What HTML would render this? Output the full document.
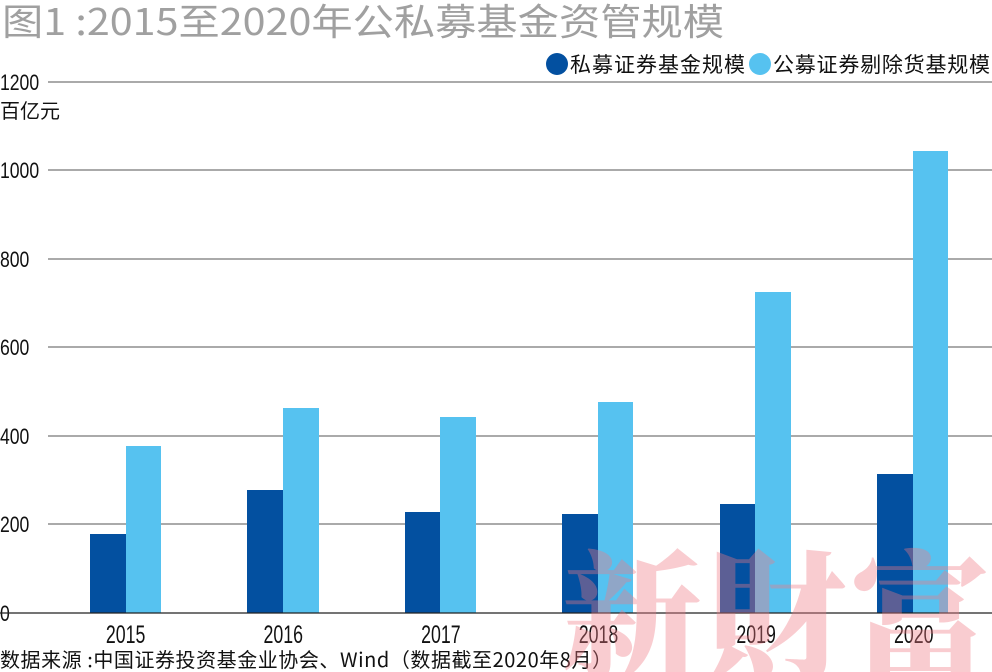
<!DOCTYPE html>
<html><head><meta charset="utf-8"><style>
html,body{margin:0;background:#fff;width:992px;height:672px;overflow:hidden;}
svg{display:block;}
</style></head><body>
<svg width="992" height="672" viewBox="0 0 992 672" xmlns="http://www.w3.org/2000/svg" overflow="hidden">
<text x="2" y="35" font-family="Noto Sans CJK SC, sans-serif" font-size="37" fill="#a0a0a0" textLength="722" lengthAdjust="spacingAndGlyphs">图1 :2015至2020年公私募基金资管规模</text>
<g stroke="#555" stroke-width="1">
<line x1="48" y1="82" x2="992" y2="82"/>
<line x1="48" y1="170" x2="992" y2="170"/>
<line x1="48" y1="259" x2="992" y2="259"/>
<line x1="48" y1="347" x2="992" y2="347"/>
<line x1="48" y1="436" x2="992" y2="436"/>
<line x1="48" y1="524" x2="992" y2="524"/>
</g>
<g font-family="Liberation Sans, sans-serif" font-size="22" fill="#111">
<text x="0" y="90" transform="scale(0.8,1)">1200</text>
<text x="0" y="178" transform="scale(0.8,1)">1000</text>
<text x="0" y="267" transform="scale(0.8,1)">800</text>
<text x="0" y="355" transform="scale(0.8,1)">600</text>
<text x="0" y="444" transform="scale(0.8,1)">400</text>
<text x="0" y="532" transform="scale(0.8,1)">200</text>
<text x="0" y="621" transform="scale(0.8,1)">0</text>
</g>
<text x="0" y="118" font-family="Noto Sans CJK SC, sans-serif" font-size="20" fill="#111">百亿元</text>
<circle cx="557" cy="64" r="11" fill="#0350a0"/>
<text x="570" y="72" font-family="Noto Sans CJK SC, sans-serif" font-size="21" fill="#111" textLength="175">私募证券基金规模</text>
<circle cx="760" cy="64" r="11" fill="#56c2f0"/>
<text x="773" y="72" font-family="Noto Sans CJK SC, sans-serif" font-size="21" fill="#111" textLength="217">公募证券剔除货基规模</text>
<g fill="#0350a0">
<rect x="90" y="534" width="36" height="79"/>
<rect x="247" y="490" width="36" height="123"/>
<rect x="405" y="512" width="35" height="101"/>
<rect x="562" y="514" width="36" height="99"/>
<rect x="720" y="504" width="35" height="109"/>
<rect x="877" y="474" width="36" height="139"/>
</g>
<g fill="#56c2f0">
<rect x="126" y="446" width="35" height="167"/>
<rect x="283" y="408" width="36" height="205"/>
<rect x="440" y="417" width="36" height="196"/>
<rect x="598" y="402" width="35" height="211"/>
<rect x="755" y="292" width="36" height="321"/>
<rect x="913" y="151" width="35" height="462"/>
</g>
<line x1="0" y1="613" x2="992" y2="613" stroke="#222" stroke-width="1.2"/>
<g font-family="Liberation Sans, sans-serif" font-size="25" fill="#111" text-anchor="middle">
<text x="177" y="643" transform="scale(0.71,1)">2015</text>
<text x="399" y="643" transform="scale(0.71,1)">2016</text>
<text x="621" y="643" transform="scale(0.71,1)">2017</text>
<text x="843" y="643" transform="scale(0.71,1)">2018</text>
<text x="1065" y="643" transform="scale(0.71,1)">2019</text>
<text x="1287" y="643" transform="scale(0.71,1)">2020</text>
</g>
<text x="0" y="667" font-family="Noto Sans CJK SC, sans-serif" font-size="20" fill="#111" textLength="612">数据来源 :中国证券投资基金业协会、Wind（数据截至2020年8月）</text>
<text x="562" y="668" font-family="Noto Serif CJK SC, serif" font-weight="900" font-size="140" fill="#f07884" fill-opacity="0.38" textLength="428">新財富</text>
</svg>
</body></html>
